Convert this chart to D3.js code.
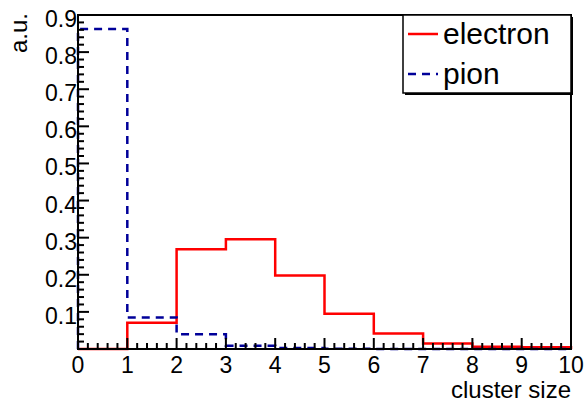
<!DOCTYPE html>
<html>
<head>
<meta charset="utf-8">
<script src="https://cdn.jsdelivr.net/npm/d3@7"></script>
<style>
  body { margin: 0; background: #fff; }
  svg { display: block; font-family: "Liberation Sans", Arial, sans-serif; }
</style>
</head>
<body>
<div id="chart"></div>
<script>
// Données
const bins = [0, 1, 2, 3, 4, 5, 6, 7, 8, 9];
const electron = [0, 0.071, 0.269, 0.296, 0.198, 0.095, 0.042, 0.015, 0.006, 0.005];
const pion = [0.862, 0.085, 0.040, 0.009, 0.003, 0.001, 0, 0, 0, 0];
const xTicks = [0, 1, 2, 3, 4, 5, 6, 7, 8, 9, 10];
const yTicks = [0.1, 0.2, 0.3, 0.4, 0.5, 0.6, 0.7, 0.8, 0.9];
const legendItems = [
  { label: "electron", color: "#ff0000", dash: null },
  { label: "pion", color: "#000099", dash: "8,6" }
];

const width = 588;
const height = 408;
const margin = { left: 78, right: 17, top: 15, bottom: 59 };

const svg = d3.select("#chart").append("svg")
  .attr("width", width)
  .attr("height", height);

const x = d3.scaleLinear().domain([0, 10]).range([margin.left, width - margin.right]);
const y = d3.scaleLinear().domain([0, 0.9]).range([height - margin.bottom, margin.top]);

// Histogrammes en escalier
function stepData(values) {
  const pts = [{ x: 0, y: 0 }];
  values.forEach((v, i) => pts.push({ x: bins[i], y: v }));
  pts.push({ x: 10, y: values[values.length - 1] });
  pts.push({ x: 10, y: 0 });
  return pts;
}
const line = d3.line()
  .x(d => x(d.x))
  .y(d => y(d.y))
  .curve(d3.curveStepAfter);

svg.append("path")
  .attr("d", line(stepData(electron)))
  .attr("fill", "none")
  .attr("stroke", legendItems[0].color)
  .attr("stroke-width", 2.5);

svg.append("path")
  .attr("d", line(stepData(pion)))
  .attr("fill", "none")
  .attr("stroke", legendItems[1].color)
  .attr("stroke-width", 2.5)
  .attr("stroke-dasharray", legendItems[1].dash);

// Cadre
const x0 = x(0), x1 = x(10), y0 = y(0), y1 = y(0.9);
svg.append("rect")
  .attr("x", x0).attr("y", y1)
  .attr("width", x1 - x0).attr("height", y0 - y1)
  .attr("fill", "none")
  .attr("stroke", "#000")
  .attr("stroke-width", 2);

// Axe X : graduations vers l'intérieur
const xMinor = d3.range(0, 10.001, 0.2);
svg.append("g").selectAll("line")
  .data(xMinor)
  .join("line")
  .attr("x1", d => x(d)).attr("x2", d => x(d))
  .attr("y1", y0)
  .attr("y2", d => Math.abs(d - Math.round(d)) < 1e-6 ? y0 - 11 : y0 - 6)
  .attr("stroke", "#000")
  .attr("stroke-width", 2);

svg.append("g").selectAll("text")
  .data(xTicks)
  .join("text")
  .attr("x", d => x(d))
  .attr("y", y0 + 24)
  .attr("text-anchor", "middle")
  .attr("font-size", 23)
  .text(d => d);

// Axe Y
const yMinor = d3.range(0, 0.9001, 0.02);
svg.append("g").selectAll("line")
  .data(yMinor)
  .join("line")
  .attr("x1", x0)
  .attr("x2", d => Math.abs(d * 10 - Math.round(d * 10)) < 1e-6 ? x0 + 11 : x0 + 6)
  .attr("y1", d => y(d)).attr("y2", d => y(d))
  .attr("stroke", "#000")
  .attr("stroke-width", 2);

svg.append("g").selectAll("text")
  .data(yTicks)
  .join("text")
  .attr("x", x0 - 1)
  .attr("y", d => y(d) + 12)
  .attr("text-anchor", "end")
  .attr("font-size", 23)
  .text(d => d3.format(".1f")(d));

// Titres des axes
svg.append("text")
  .attr("x", x1)
  .attr("y", 398)
  .attr("text-anchor", "end")
  .attr("font-size", 24)
  .text("cluster size");

svg.append("text")
  .attr("transform", "translate(27,13) rotate(-90)")
  .attr("text-anchor", "end")
  .attr("font-size", 24)
  .text("a.u.");

// Légende
const lg = { x: 403, y: 15, w: 168, h: 78 };
svg.append("rect")
  .attr("x", lg.x + 2).attr("y", lg.y + 2)
  .attr("width", lg.w).attr("height", lg.h)
  .attr("fill", "#000");
svg.append("rect")
  .attr("x", lg.x).attr("y", lg.y)
  .attr("width", lg.w).attr("height", lg.h)
  .attr("fill", "#fff")
  .attr("stroke", "#000")
  .attr("stroke-width", 1.5);

const entry = svg.append("g").selectAll("g")
  .data(legendItems)
  .join("g")
  .attr("transform", (d, i) => `translate(${lg.x}, ${lg.y + 19 + i * 40})`);

entry.append("line")
  .attr("x1", 5).attr("x2", 35)
  .attr("y1", 0).attr("y2", 0)
  .attr("stroke", d => d.color)
  .attr("stroke-width", 2.5)
  .attr("stroke-dasharray", d => d.dash);

entry.append("text")
  .attr("x", 40)
  .attr("y", 10)
  .attr("font-size", 30)
  .text(d => d.label);
</script>
</body>
</html>
